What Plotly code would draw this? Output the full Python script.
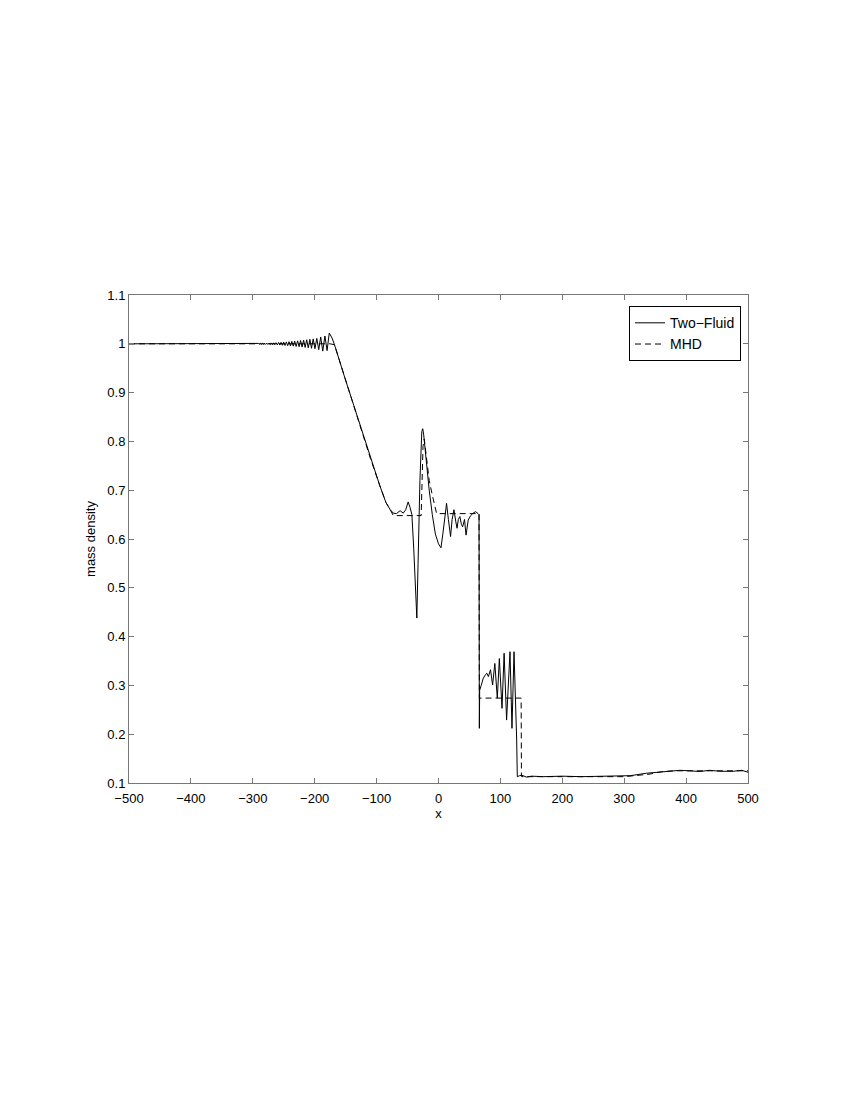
import plotly.graph_objects as go

# Two-Fluid curve (x, mass density)
tf_x = [-500, -320, -300, -298.5, -297, -295.5, -294, -292.4, -290.8, -289.2,
        -287.6, -286, -284.3, -282.6, -280.9, -279.2, -277.4, -275.6, -273.8, -272,
        -270.1, -268.2, -266.3, -264.4, -262.4, -260.4, -258.4, -256.4, -254.3, -252.2,
        -250.1, -248, -245.8, -243.6, -241.4, -239.2, -236.9, -234.6, -232.3, -230,
        -227.6, -225.2, -222.8, -220.4, -217.9, -215.4, -212.9, -210.4, -207.8, -205.2,
        -202.4, -199.6, -196.6, -193.5, -190.3, -187, -183.5, -180, -176.5, -172,
        -168, -150, -130, -110, -95, -85, -78, -73, -68, -62,
        -57, -53, -49, -46, -43, -40, -37, -35, -33, -30,
        -27, -25.5, -24, -20, -15, -10, -5, 0, 4, 7,
        10, 13, 16, 19.5, 22, 25, 28, 30, 32, 34.5,
        37, 39, 42, 44.5, 48, 52, 56, 60, 64, 65.5,
        66, 66.5, 69, 72.4, 76, 78, 80.6, 84, 87.4, 91,
        95, 98.3, 102.6, 106, 110, 115.5, 118.7, 122, 126.3, 127.3,
        131, 134.4, 142.5, 150, 170, 200, 230, 260, 290, 310,
        336, 358, 375, 390, 405, 422, 438, 455, 476, 490, 500]
tf_y = [1.0, 1.0, 1.0005, 0.9995, 1.0006, 0.9994, 1.0007, 0.9993, 1.0008, 0.9992,
        1.0009, 0.9991, 1.001, 0.999, 1.0012, 0.9988, 1.0014, 0.9986, 1.0016, 0.9984,
        1.0018, 0.9982, 1.002, 0.998, 1.0023, 0.9977, 1.0026, 0.9974, 1.003, 0.997,
        1.0034, 0.9966, 1.0038, 0.9962, 1.0043, 0.9957, 1.0048, 0.9952, 1.0054, 0.9946,
        1.006, 0.994, 1.0067, 0.9933, 1.0075, 0.9925, 1.0083, 0.9917, 1.0092, 0.9908,
        1.01, 0.99, 1.011, 0.988, 1.014, 0.985, 1.016, 0.986, 1.022, 1.012,
        0.998, 0.925, 0.845, 0.765, 0.71, 0.675, 0.66, 0.653, 0.652, 0.658,
        0.653, 0.66, 0.676, 0.665, 0.65, 0.58, 0.48, 0.438, 0.55, 0.72,
        0.82, 0.826, 0.815, 0.76, 0.70, 0.65, 0.61, 0.59, 0.582, 0.61,
        0.645, 0.673, 0.64, 0.605, 0.64, 0.66, 0.635, 0.622, 0.64, 0.646,
        0.63, 0.625, 0.64, 0.608, 0.639, 0.648, 0.653, 0.656, 0.652, 0.65,
        0.212, 0.29, 0.30, 0.315, 0.322, 0.325, 0.318, 0.332, 0.301, 0.345,
        0.274, 0.355, 0.253, 0.366, 0.229, 0.369, 0.212, 0.369, 0.188, 0.113,
        0.115, 0.116, 0.112, 0.114, 0.113, 0.114, 0.113, 0.114, 0.114, 0.115,
        0.12, 0.123, 0.125, 0.126, 0.125, 0.1235, 0.126, 0.124, 0.124, 0.126, 0.122]

# MHD curve
mhd_x = [-500, -175, -168, -150, -130, -110, -95, -85, -78, -73,
         -28, -27, -25, -23, -20, -15, -10, -6, -3, 65.5,
         66, 133.5, 134, 200, 300, 340, 360, 380, 500]
mhd_y = [1.0, 1.0, 0.998, 0.925, 0.845, 0.765, 0.71, 0.675, 0.66, 0.648,
         0.648, 0.70, 0.79, 0.805, 0.77, 0.72, 0.69, 0.665, 0.652, 0.652,
         0.274, 0.274, 0.113, 0.113, 0.113, 0.118, 0.123, 0.125, 0.125]

x_ticks = [-500, -400, -300, -200, -100, 0, 100, 200, 300, 400, 500]
y_ticks = [0.1, 0.2, 0.3, 0.4, 0.5, 0.6, 0.7, 0.8, 0.9, 1.0, 1.1]

fig = go.Figure()
fig.add_trace(go.Scatter(x=tf_x, y=tf_y, mode="lines", name="Two\u2212Fluid",
                         line=dict(color="black", width=1)))
fig.add_trace(go.Scatter(x=mhd_x, y=mhd_y, mode="lines", name="MHD",
                         line=dict(color="black", width=1, dash="6px,4px")))

axis_style = dict(showline=True, mirror="ticks", linecolor="#777777", linewidth=1,
                  ticks="inside", ticklen=5, tickcolor="#777777",
                  showgrid=False, zeroline=False,
                  tickfont=dict(size=13, color="black"))

fig.update_xaxes(range=[-500, 500], tickvals=x_ticks, ticklabelstandoff=3,
                 title=dict(text="x", font=dict(size=13, color="black"), standoff=0),
                 **axis_style)
fig.update_yaxes(range=[0.1, 1.1], tickvals=y_ticks,
                 title=dict(text="mass density", font=dict(size=13, color="black"), standoff=8),
                 **axis_style)

# the page adds an 8px body margin, so the figure is placed 8px in
fig.update_layout(
    width=834, height=1084,
    margin=dict(l=121, r=94, t=287, b=309),
    plot_bgcolor="white", paper_bgcolor="white",
    font=dict(family="Liberation Sans, Arial, sans-serif", size=13, color="black"),
    legend=dict(x=0.9887, y=0.977, xanchor="right", yanchor="top",
                bordercolor="black", borderwidth=1, bgcolor="white",
                font=dict(size=14), tracegroupgap=0),
)

fig.write_html("out.html")
